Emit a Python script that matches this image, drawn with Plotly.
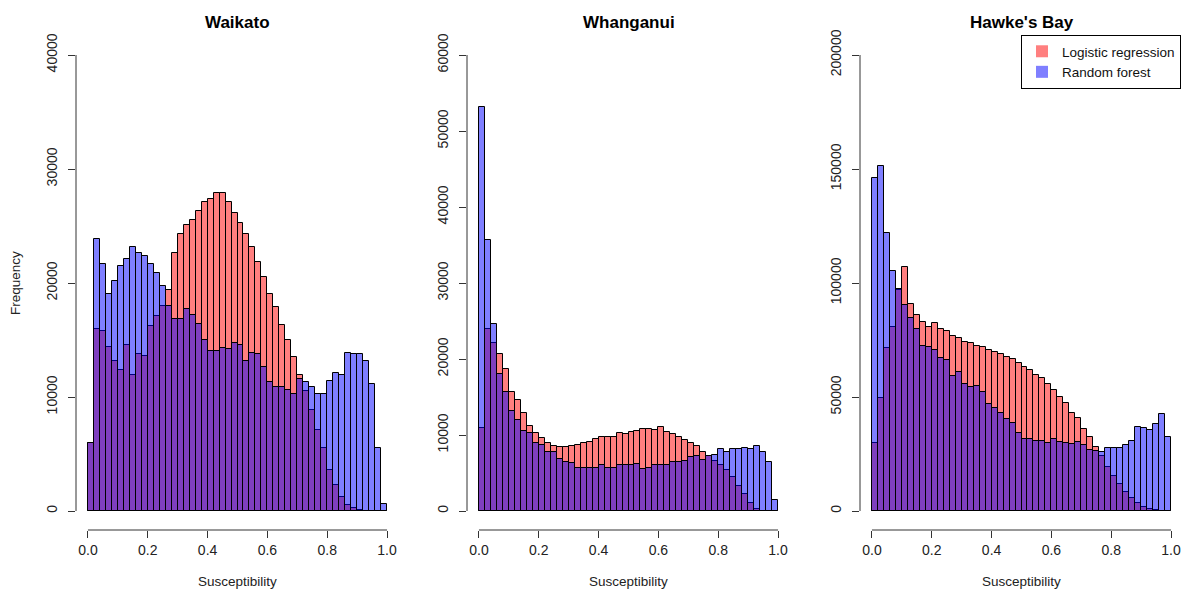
import numpy as np
import plotly.graph_objects as go

# ---------------- data ----------------
bin_width = 0.02
bin_centers = np.round(np.arange(50) * bin_width + bin_width / 2, 3)

regions = ["Waikato", "Whanganui", "Hawke's Bay"]
series_names = ["Logistic regression", "Random forest"]

waikato_lr = [6000, 16000, 15800, 14400, 13200, 12400, 14600, 11900, 13800, 13600,
              16200, 17100, 18000, 19400, 22600, 24300, 25100, 25500, 26300, 27100,
              27400, 27900, 27900, 27100, 26100, 25300, 24300, 23200, 21800, 20500,
              19000, 17900, 16300, 15000, 13500, 11900, 10500, 8900, 7100, 5500,
              3600, 2300, 1260, 530, 230, 100, 0, 0, 0, 0]
waikato_rf = [6000, 23900, 21700, 19000, 20200, 21500, 22100, 23200, 22600, 22400,
              21700, 20900, 19700, 18000, 16800, 16800, 17700, 17200, 16400, 15000,
              14000, 14000, 14300, 14200, 14700, 14600, 13200, 13900, 13800, 12600,
              11300, 10900, 10900, 10600, 10300, 11600, 11300, 10900, 10300, 10300,
              11400, 12100, 11900, 13900, 13800, 13800, 13200, 11100, 5500, 600]

whanganui_lr = [10900, 24000, 22100, 20600, 18700, 15700, 14600, 12900, 11200, 10200,
                9600, 8900, 8500, 8400, 8400, 8600, 8700, 9000, 9100, 9500,
                9700, 9800, 9800, 10200, 10100, 10400, 10500, 10800, 10800, 10700,
                11100, 10400, 10100, 9800, 9300, 9000, 8600, 7800, 7300, 6600,
                6000, 5400, 4500, 3300, 2300, 1100, 260, 0, 0, 0]
whanganui_rf = [53100, 35600, 24600, 18000, 15600, 13200, 12000, 10500, 10200, 9000,
                8700, 7700, 7800, 6800, 6400, 6300, 5700, 5600, 5600, 5700,
                6000, 5700, 5700, 6100, 6100, 6100, 6200, 5500, 5700, 6000,
                6100, 6100, 6400, 6400, 6600, 7100, 7200, 6700, 7200, 7400,
                8100, 7700, 8200, 8200, 8300, 8200, 8500, 7700, 6400, 1400]

hawkes_lr = [29700, 49700, 71600, 80600, 96900, 106900, 90600, 85800, 82800, 80900,
             82300, 79800, 79100, 76600, 76000, 74300, 73500, 72400, 71800, 70600,
             69600, 68700, 67400, 66500, 64800, 63300, 61800, 59600, 58200, 55700,
             53100, 50100, 47500, 43100, 40600, 36100, 32300, 28200, 24100, 19400,
             15400, 11700, 8200, 5600, 3400, 1600, 700, 300, 0, 0]
hawkes_rf = [146200, 151300, 122100, 105300, 97500, 90400, 84800, 79800, 72400, 71800,
             70500, 67000, 66200, 59400, 60800, 55600, 54500, 54800, 52000, 46900,
             45300, 43100, 40500, 38500, 34100, 31400, 31400, 30800, 30700, 30000,
             31400, 30400, 29700, 29200, 30100, 28800, 26800, 26300, 25700, 27500,
             27800, 27800, 29100, 30800, 36800, 36300, 35500, 38300, 42700, 32500]

y_max_ticks = [40000, 60000, 200000]
y_tick_steps = [10000, 10000, 50000]
x_ticks = [0.0, 0.2, 0.4, 0.6, 0.8, 1.0]

panel_lr = [waikato_lr, whanganui_lr, hawkes_lr]
panel_rf = [waikato_rf, whanganui_rf, hawkes_rf]

# ---------------- style / layout ----------------
W, H = 1184, 603
FONT = "Liberation Sans, Arial, sans-serif"
red = "rgba(255,0,0,0.5)"
blue = "rgba(0,0,255,0.5)"

panel_px = [(76, 399), (467, 790), (860, 1183)]
top_px, zero_px, bottom_px = 37, 511, 530
max_px = 55  # pixel of top tick

fig = go.Figure()
layout = dict(
    width=W, height=H,
    margin=dict(l=0, r=0, t=0, b=0, pad=0, autoexpand=False),
    paper_bgcolor="white", plot_bgcolor="white",
    barmode="overlay", bargap=0,
    font=dict(family=FONT, size=14, color="black"),
    showlegend=True,
    legend=dict(x=1181 / W, xanchor="right", y=1 - 35 / H, yanchor="top",
                bordercolor="black", borderwidth=1, bgcolor="white",
                font=dict(size=13.5, family=FONT, color="#111"), traceorder="normal",
                itemwidth=30, tracegroupgap=0),
)
annotations = []
shapes = []

for i in range(3):
    xa = "x" if i == 0 else f"x{i+1}"
    ya = "y" if i == 0 else f"y{i+1}"
    xkey = "xaxis" if i == 0 else f"xaxis{i+1}"
    ykey = "yaxis" if i == 0 else f"yaxis{i+1}"
    l, r = panel_px[i]
    ymax = y_max_ticks[i]
    scale = (zero_px - max_px) / ymax  # px per unit
    y_lo = -(bottom_px - zero_px) / scale
    y_hi = (zero_px - top_px) / scale

    fig.add_trace(go.Bar(x=bin_centers, y=panel_lr[i], width=bin_width,
                         marker=dict(color=red, line=dict(color="black", width=1)),
                         xaxis=xa, yaxis=ya, showlegend=False, name=series_names[0]))
    fig.add_trace(go.Bar(x=bin_centers, y=panel_rf[i], width=bin_width,
                         marker=dict(color=blue, line=dict(color="black", width=1)),
                         xaxis=xa, yaxis=ya, showlegend=False, name=series_names[1]))

    layout[xkey] = dict(domain=[l / W, r / W], range=[-0.04, 1.04], anchor=ya,
                        showgrid=False, zeroline=False, showline=False,
                        automargin=False,
                        tickmode="array", tickvals=x_ticks,
                        ticktext=[f"{v:.1f}" for v in x_ticks],
                        ticks="outside", ticklen=7, tickwidth=1, tickcolor="#333",
                        tickfont=dict(size=14, color="#222"), fixedrange=True)
    layout[ykey] = dict(domain=[1 - bottom_px / H, 1 - top_px / H], range=[y_lo, y_hi],
                        anchor=xa, showgrid=False, zeroline=False, showline=False,
                        automargin=False,
                        tickmode="array",
                        tickvals=list(range(0, ymax + 1, y_tick_steps[i])),
                        ticktext=[str(v) for v in range(0, ymax + 1, y_tick_steps[i])],
                        ticks="outside", ticklen=7, tickwidth=1, tickcolor="#333",
                        tickangle=-90, tickfont=dict(size=14, color="#222"),
                        ticklabelstandoff=5, fixedrange=True)

    # R-style axis lines spanning first to last tick
    shapes.append(dict(type="line", xref=f"{xa} domain", yref=ya, x0=0, x1=0,
                       y0=0, y1=ymax, line=dict(color="#333", width=1)))
    shapes.append(dict(type="line", xref=xa, yref=f"{ya} domain", x0=0, x1=1,
                       y0=0, y1=0, line=dict(color="#333", width=1)))

    cx = (l + r) / 2 / W
    annotations.append(dict(text=f"<b>{regions[i]}</b>", x=cx, y=1 - 22 / H,
                            xref="paper", yref="paper", showarrow=False,
                            xanchor="center", yanchor="middle",
                            font=dict(size=17, family=FONT, color="black")))
    annotations.append(dict(text="Susceptibility", x=cx, y=1 - 581 / H,
                            xref="paper", yref="paper", showarrow=False,
                            xanchor="center", yanchor="middle",
                            font=dict(size=13.5, family=FONT, color="#222")))

annotations.append(dict(text="Frequency", x=15 / W, y=1 - 283 / H, xref="paper",
                        yref="paper", showarrow=False, textangle=-90,
                        xanchor="center", yanchor="middle",
                        font=dict(size=13.5, family=FONT, color="#222")))

# legend-only entries (filled squares without border)
fig.add_trace(go.Bar(x=[None], y=[None], name=series_names[0],
                     marker=dict(color=red, line=dict(width=0)), showlegend=True))
fig.add_trace(go.Bar(x=[None], y=[None], name=series_names[1],
                     marker=dict(color=blue, line=dict(width=0)), showlegend=True))

layout["annotations"] = annotations
layout["shapes"] = shapes
fig.update_layout(**layout)

fig.write_html("out.html",
               config={"displayModeBar": False},
               post_script="document.body.style.margin='0';"
                           "document.body.style.overflow='hidden';"
                           "var d=document.getElementById('{plot_id}');"
                           "d.style.position='fixed';d.style.top='0px';"
                           "d.style.left='0px';")
